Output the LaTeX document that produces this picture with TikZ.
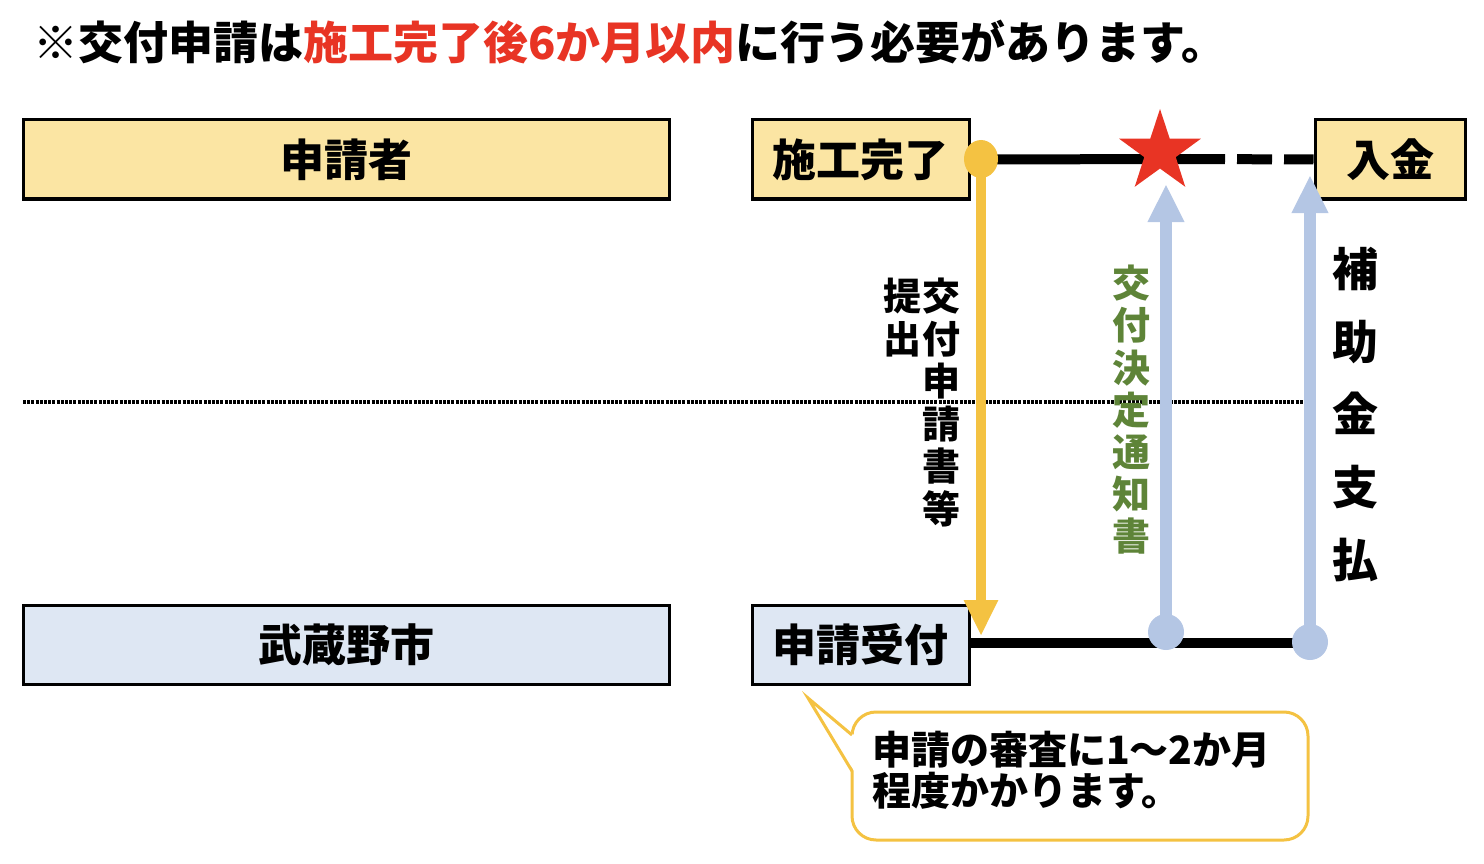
\documentclass[tikz,border=0pt]{standalone}
\usepackage{fontspec}
\setmainfont{Noto Sans CJK JP}
\usetikzlibrary{shapes.geometric,arrows.meta}
\definecolor{boxyellow}{HTML}{FBE5A3}
\definecolor{boxblue}{HTML}{DEE7F3}
\definecolor{arryellow}{HTML}{F4C242}
\definecolor{arrblue}{HTML}{B4C6E4}
\definecolor{starred}{HTML}{E83424}
\definecolor{notegreen}{HTML}{5E8438}
\tikzset{
	fs/.style={font=\fontsize{#1}{#1}\selectfont\bfseries},
	lane/.style={draw=black,line width=3pt,minimum height=79pt,inner sep=0pt,fs=44},
	vtext/.style={align=center,inner sep=0pt,anchor=north},
}
\begin{document}
\begin{tikzpicture}[x=1pt,y=-1pt]
	\useasboundingbox (0,0) rectangle (1484,864);
	% title
	\node[anchor=west,inner sep=0pt,fs=45] (title) at (33,42)
		{※交付申請は\textcolor{starred}{施工完了後6か月以内}に行う必要があります。};
	% lanes
	\node[lane,fill=boxyellow,minimum width=646pt] (shinseisha) at (346,159.5) {申請者};
	\node[lane,fill=boxyellow,minimum width=217pt] (kanryo) at (860.5,159.5) {施工完了};
	\node[lane,fill=boxyellow,minimum width=150pt] (nyukin) at (1390,159.5) {入金};
	\node[lane,fill=boxblue,minimum width=646pt] (city) at (346,644.5) {武蔵野市};
	\node[lane,fill=boxblue,minimum width=217pt] (uketsuke) at (860.5,644.5) {申請受付};
	\coordinate (sepL) at (23,402);
	\coordinate (sepR) at (1305,402);
	\draw [line width=3.5pt,dash pattern=on 3pt off 1.2pt] (sepL) -- (sepR);
	% time lines
	\coordinate (topend) at (1190,159);
	\draw [line width=10pt,dash pattern=on 35pt off 12pt] (topend) -- (nyukin.west);
	\draw [line width=10pt] (kanryo.east) -- (topend);
	\node[star,star points=5,star point ratio=2.6,fill=starred,minimum size=86pt,inner sep=0pt] (star) at (1160,152) {};
	\coordinate (pay) at (1310,643);
	\draw [line width=10pt] (uketsuke.east |- pay) -- (pay);
	% yellow arrow
	\node[ellipse,fill=arryellow,minimum width=34pt,minimum height=38pt,inner sep=0pt] (dotY) at (981,159) {};
	\coordinate (tipY) at (981,636);
	\draw [arryellow,line width=10pt,-{Triangle[length=36pt,width=32pt]}] (dotY.center) -- (tipY);
	% blue arrows
	\node[circle,fill=arrblue,minimum size=36pt,inner sep=0pt] (dotB1) at (1166,632) {};
	\node[circle,fill=arrblue,minimum size=36pt,inner sep=0pt] (dotB2) at (1310,642) {};
	\coordinate (tipB1) at (1166,184);
	\coordinate (tipB2) at (1310,175);
	\draw [arrblue,line width=12pt,-{Triangle[length=38pt,width=34pt]}] (dotB1.center) -- (tipB1);
	\draw [arrblue,line width=12pt,-{Triangle[length=38pt,width=34pt]}] (dotB2.center) -- (tipB2);
	% vertical labels
	\node[vtext,font=\fontsize{38}{42.5}\selectfont\bfseries] (docs) at (941,278) {交\\付\\申\\請\\書\\等};
	\node[vtext,font=\fontsize{38}{42.5}\selectfont\bfseries] (teishutsu) at (902,278) {提\\出};
	\node[vtext,text=notegreen,font=\fontsize{38}{42.2}\selectfont\bfseries] (notice) at (1131,265) {交\\付\\決\\定\\通\\知\\書};
	\node[vtext,font=\fontsize{46}{72.7}\selectfont\bfseries] (shiharai) at (1355,247) {補\\助\\金\\支\\払};
	% callout
	\draw [arryellow,line width=3pt,fill=white,rounded corners=24pt] (852,712) rectangle (1308,840);
	\fill [white] (854,735) -- (808,698) -- (854,771) -- cycle;
	\draw [arryellow,line width=3pt,line join=miter] (852,735) -- (808,698) -- (852,771);
	\node[anchor=north west,align=left,inner sep=0pt,font=\fontsize{39}{41}\selectfont\bfseries] (note) at (872,731)
		{申請の審査に1〜2か月\\程度かかります。};
\end{tikzpicture}
\end{document}
